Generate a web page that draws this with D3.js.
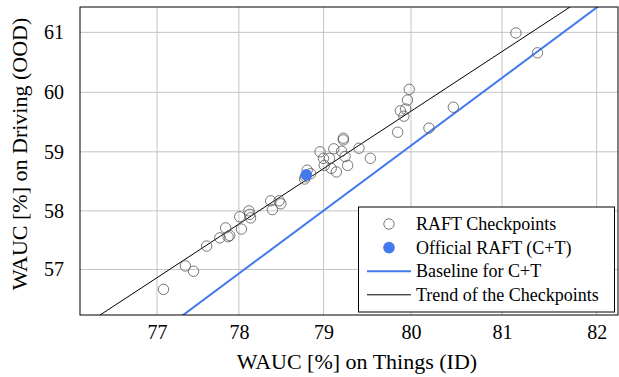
<!DOCTYPE html>
<html>
<head>
<meta charset="utf-8">
<script src="https://cdn.jsdelivr.net/npm/d3@7"></script>
<style>
  body { margin: 0; background: #fff; }
  text { font-family: "Liberation Serif", "Times New Roman", serif; fill: #000; }
</style>
</head>
<body>
<div id="chart"></div>
<script>
// Data (values in %)
const checkpointsX = [81.15, 81.38, 79.98, 79.96, 79.94, 79.88, 79.92, 79.85, 80.47, 80.20,
  79.23, 79.23, 79.41, 79.54, 79.12, 78.96, 79.21, 79.00, 79.07, 79.25,
  79.01, 79.09, 79.15, 79.28, 78.81, 78.85, 78.78, 78.79,
  78.38, 78.40, 78.48, 78.50, 78.12, 78.01, 78.13, 78.14, 78.03, 77.84,
  77.77, 77.87, 77.89, 77.61, 77.35, 77.45, 77.08];
const checkpointsY = [60.99, 60.66, 60.05, 59.87, 59.72, 59.69, 59.60, 59.33, 59.75, 59.40,
  59.23, 59.20, 59.06, 58.89, 59.05, 59.00, 59.01, 58.89, 58.89, 58.92,
  58.77, 58.72, 58.66, 58.77, 58.69, 58.63, 58.54, 58.58,
  58.17, 58.02, 58.17, 58.12, 58.00, 57.90, 57.94, 57.88, 57.69, 57.71,
  57.54, 57.56, 57.58, 57.40, 57.06, 56.97, 56.66];
const officialX = [78.80];
const officialY = [58.61];
const baselineX = [78, 81];
const baselineY = [56.93, 60.24];
const trendX = [77, 81];
const trendY = [56.86, 60.68];

const xDomain = [76.03, 82.22];
const yDomain = [56.22, 61.42];
const xTicks = [77, 78, 79, 80, 81, 82];
const yTicks = [57, 58, 59, 60, 61];
const legendLabels = ["RAFT Checkpoints", "Official RAFT (C+T)", "Baseline for C+T", "Trend of the Checkpoints"];

const BLUE = "#4479ee";

const W = 619, H = 377;
const PLOT = { LEFT: 80, RIGHT: 618, TOP: 7, BOTTOM: 315 };

// logit axis
const logit = v => Math.log((v / 100) / (1 - v / 100));
const unlogit = l => 100 / (1 + Math.exp(-l));

const xL = d3.scaleLinear().domain(xDomain.map(logit)).range([PLOT.LEFT, PLOT.RIGHT]);
const yL = d3.scaleLinear().domain(yDomain.map(logit)).range([PLOT.BOTTOM, PLOT.TOP]);
const x = v => xL(logit(v));
const y = v => yL(logit(v));

const svg = d3.select("#chart").append("svg")
  .attr("width", W)
  .attr("height", H);

svg.append("clipPath").attr("id", "clip")
  .append("rect")
  .attr("x", PLOT.LEFT).attr("y", PLOT.TOP)
  .attr("width", PLOT.RIGHT - PLOT.LEFT)
  .attr("height", PLOT.BOTTOM - PLOT.TOP);

// Grid
svg.append("g")
  .selectAll("line")
  .data(xTicks)
  .enter().append("line")
  .attr("x1", d => x(d)).attr("x2", d => x(d))
  .attr("y1", PLOT.TOP).attr("y2", PLOT.BOTTOM)
  .attr("stroke", "#c4c4c4").attr("stroke-width", 1);

svg.append("g")
  .selectAll("line")
  .data(yTicks)
  .enter().append("line")
  .attr("y1", d => y(d)).attr("y2", d => y(d))
  .attr("x1", PLOT.LEFT).attr("x2", PLOT.RIGHT)
  .attr("stroke", "#c4c4c4").attr("stroke-width", 1);

// Axes (logit scale, ticks labelled in %)
const xAxis = d3.axisBottom(xL)
  .tickValues(xTicks.map(logit))
  .tickFormat(d => Math.round(unlogit(d)))
  .tickSize(0).tickPadding(10);
const yAxis = d3.axisLeft(yL)
  .tickValues(yTicks.map(logit))
  .tickFormat(d => Math.round(unlogit(d)))
  .tickSize(0).tickPadding(16);

const xg = svg.append("g")
  .attr("transform", `translate(0, ${PLOT.BOTTOM})`)
  .call(xAxis);
const yg = svg.append("g")
  .attr("transform", `translate(${PLOT.LEFT}, 0)`)
  .call(yAxis);
[xg, yg].forEach(g => {
  g.select(".domain").remove();
  g.selectAll("text")
    .attr("font-family", "Liberation Serif")
    .attr("font-size", "20px")
    .attr("fill", "#000");
});

// Lines, extended over the x range in logit space
function extend(xs, ys) {
  const slope = (logit(ys[1]) - logit(ys[0])) / (logit(xs[1]) - logit(xs[0]));
  return xDomain.map(v => [x(v), yL(logit(ys[0]) + slope * (logit(v) - logit(xs[0])))]);
}

const plot = svg.append("g").attr("clip-path", "url(#clip)");

plot.append("path")
  .attr("d", d3.line()(extend(baselineX, baselineY)))
  .attr("stroke", BLUE).attr("stroke-width", 2).attr("fill", "none");

plot.append("path")
  .attr("d", d3.line()(extend(trendX, trendY)))
  .attr("stroke", "#000").attr("stroke-width", 1).attr("fill", "none");

// Checkpoints
plot.selectAll("circle.ckpt")
  .data(d3.range(checkpointsX.length))
  .enter().append("circle")
  .attr("class", "ckpt")
  .attr("cx", i => x(checkpointsX[i]))
  .attr("cy", i => y(checkpointsY[i]))
  .attr("r", 5.2)
  .attr("fill", "none")
  .attr("stroke", "#555")
  .attr("stroke-width", 0.8);

plot.selectAll("circle.official")
  .data(d3.range(officialX.length))
  .enter().append("circle")
  .attr("class", "official")
  .attr("cx", i => x(officialX[i]))
  .attr("cy", i => y(officialY[i]))
  .attr("r", 5.8)
  .attr("fill", BLUE);

// Frame
svg.append("rect")
  .attr("x", PLOT.LEFT).attr("y", PLOT.TOP)
  .attr("width", PLOT.RIGHT - PLOT.LEFT)
  .attr("height", PLOT.BOTTOM - PLOT.TOP)
  .attr("fill", "none").attr("stroke", "#000").attr("stroke-width", 1);

// Axis labels
svg.append("text")
  .attr("x", 357).attr("y", 369)
  .attr("font-size", "22px")
  .attr("text-anchor", "middle")
  .text("WAUC [%] on Things (ID)");

svg.append("text")
  .attr("transform", "translate(27, 154) rotate(-90)")
  .attr("font-size", "22px")
  .attr("text-anchor", "middle")
  .text("WAUC [%] on Driving (OOD)");

// Legend
const legend = svg.append("g");
legend.append("rect")
  .attr("x", 358.5).attr("y", 207)
  .attr("width", 256).attr("height", 105)
  .attr("fill", "#fff").attr("stroke", "#000").attr("stroke-width", 1);

const rowY = i => 224 + i * 23.6;
legend.append("circle")
  .attr("cx", 389).attr("cy", rowY(0)).attr("r", 5.2)
  .attr("fill", "none").attr("stroke", "#555").attr("stroke-width", 0.8);
legend.append("circle")
  .attr("cx", 389).attr("cy", rowY(1)).attr("r", 5.8)
  .attr("fill", BLUE);
legend.append("line")
  .attr("x1", 367).attr("x2", 411).attr("y1", rowY(2)).attr("y2", rowY(2))
  .attr("stroke", BLUE).attr("stroke-width", 2);
legend.append("line")
  .attr("x1", 367).attr("x2", 411).attr("y1", rowY(3)).attr("y2", rowY(3))
  .attr("stroke", "#000").attr("stroke-width", 1);

legend.selectAll("text")
  .data(legendLabels)
  .enter().append("text")
  .attr("x", 416)
  .attr("y", (d, i) => rowY(i) + 6)
  .attr("font-size", "18px")
  .text(d => d);
</script>
</body>
</html>
